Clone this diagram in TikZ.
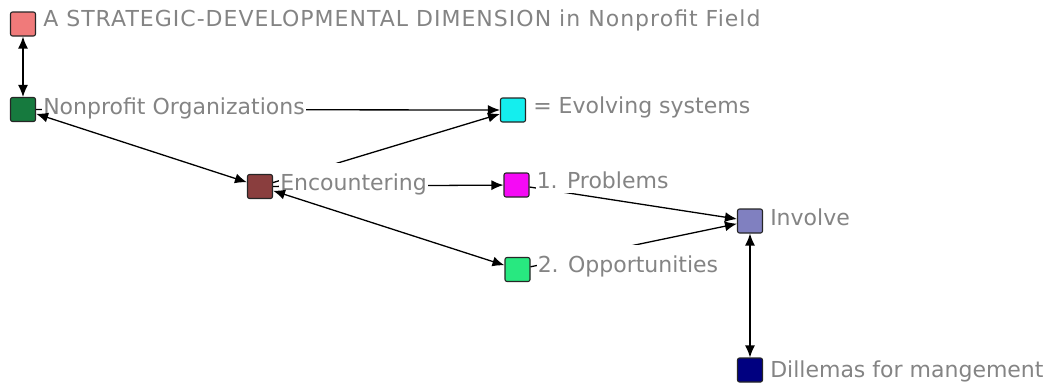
\documentclass[tikz,border=0pt]{standalone}
\usepackage{fontspec}
\setmainfont{DejaVu Sans}
\usetikzlibrary{arrows.meta}

\definecolor{stratred}{RGB}{240,122,122}
\definecolor{orggreen}{RGB}{22,122,62}
\definecolor{evolcyan}{RGB}{20,238,238}
\definecolor{encbrown}{RGB}{138,62,62}
\definecolor{probmag}{RGB}{245,10,245}
\definecolor{oppgreen}{RGB}{40,232,128}
\definecolor{invblue}{RGB}{128,128,192}
\definecolor{dilnavy}{RGB}{0,0,128}
\definecolor{txtgray}{RGB}{132,132,132}

\tikzset{
  box/.style={draw=black!85, line width=1.1pt, rounded corners=2pt,
    minimum width=25pt, minimum height=24pt, inner sep=0pt},
  lbl/.style={anchor=base west, fill=white, text=txtgray, inner xsep=1pt,
    inner ysep=0pt, text height=27pt, text depth=4.5pt,
    font=\fontsize{22}{26}\selectfont},
  link/.style={line width=1.3pt, -{Latex[length=12pt,width=10pt]}},
  twoway/.style={line width=1.3pt,
    {Latex[length=12pt,width=10pt]}-{Latex[length=12pt,width=10pt]}},
}

\begin{document}
\begin{tikzpicture}[x=1pt,y=-1pt]
  \useasboundingbox (0,0) rectangle (1063,384);

  % Boxes
  \node[box, fill=stratred] (strat) at (23,24) {};
  \node[box, fill=orggreen] (org) at (23,109.5) {};
  \node[box, fill=evolcyan] (evol) at (513,110) {};
  \node[box, fill=encbrown] (enc) at (260,186.5) {};
  \node[box, fill=probmag] (prob) at (516.5,185) {};
  \node[box, fill=oppgreen] (opp) at (517.5,269.5) {};
  \node[box, fill=invblue] (inv) at (750,221) {};
  \node[box, fill=dilnavy] (dil) at (750,370) {};

  % One-way links (partly under the labels)
  \draw[link] (org) -- (evol);
  \draw[link] (enc) -- (evol);
  \draw[link] (enc) -- (prob);
  \draw[link] (prob) -- (inv);
  \draw[link] (opp) -- (inv);

  % Labels
  \node[lbl] (stratl) at ([shift={(6,2)}]strat.east) {\addfontfeature{LetterSpace=4.6}A STRATEGIC-DEVELOPMENTAL DIMENSION in Nonprofit Field};
  \node[lbl] (orgl) at ([shift={(6,5)}]org.east) {Nonprofit Organizations};
  \node[lbl] (evoll) at ([shift={(6,3)}]evol.east) {= Evolving systems};
  \node[lbl] (encl) at ([shift={(6,3.5)}]enc.east) {Encountering};
  \node[lbl] (probl) at ([shift={(6,3)}]prob.east) {1. Problems};
  \node[lbl] (oppl) at ([shift={(6,2.5)}]opp.east) {2. Opportunities};
  \node[lbl] (invl) at ([shift={(6,4)}]inv.east) {Involve};
  \node[lbl] (dill) at ([shift={(6,7)}]dil.east) {Dillemas for mangement};

  % Two-way links
  \draw[twoway] (strat) -- (org);
  \draw[twoway] (org) -- (enc);
  \draw[twoway] (enc) -- (opp);
  \draw[twoway] (inv) -- (dil);
\end{tikzpicture}
\end{document}
